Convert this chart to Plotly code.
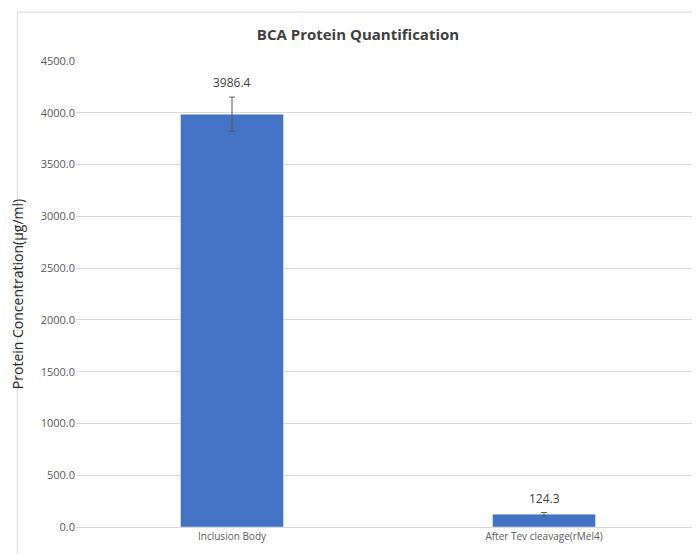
import plotly.graph_objects as go

categories = ['Inclusion Body', 'After Tev cleavage(rMel4)']
values = [3986.4, 124.3]
errors = [165, 15]
tick_vals = [0, 500, 1000, 1500, 2000, 2500, 3000, 3500, 4000, 4500]

fig = go.Figure(go.Bar(
    x=categories, y=values, width=0.33,
    marker_color='#4472C4',
    error_y=dict(type='data', array=errors, color='#595959', thickness=1, width=3),
))
for c, v, e in zip(categories, values, errors):
    fig.add_annotation(x=c, y=v + e, text=f'{v:.1f}', showarrow=False,
                       yanchor='bottom', yshift=4, font=dict(size=12, color='#404040'))
fig.update_layout(
    width=700, height=554,
    title=dict(text='<b>BCA Protein Quantification</b>', x=0.5, y=0.951, yanchor='middle',
               font=dict(size=15, color='#404040')),
    font=dict(family='Open Sans, sans-serif', color='#595959'),
    plot_bgcolor='white', paper_bgcolor='white',
    margin=dict(t=53, b=35, l=64, r=8, pad=0),
    showlegend=False,
    yaxis=dict(range=[0, 4500], tickvals=tick_vals, tickformat='.1f',
               gridcolor='#d9d9d9', zeroline=False, tickfont=dict(size=11),
               title=dict(text='Protein Concentration(µg/ml)', font=dict(size=14, color='#262626'))),
    xaxis=dict(showline=True, linecolor='#d9d9d9', tickfont=dict(size=10)),
    shapes=[dict(type='rect', xref='paper', yref='paper', x0=-0.094, x1=1.01, y0=-0.066, y1=1.105,
                 line=dict(color='#d9d9d9', width=1))],
)
fig.write_html('out.html')
